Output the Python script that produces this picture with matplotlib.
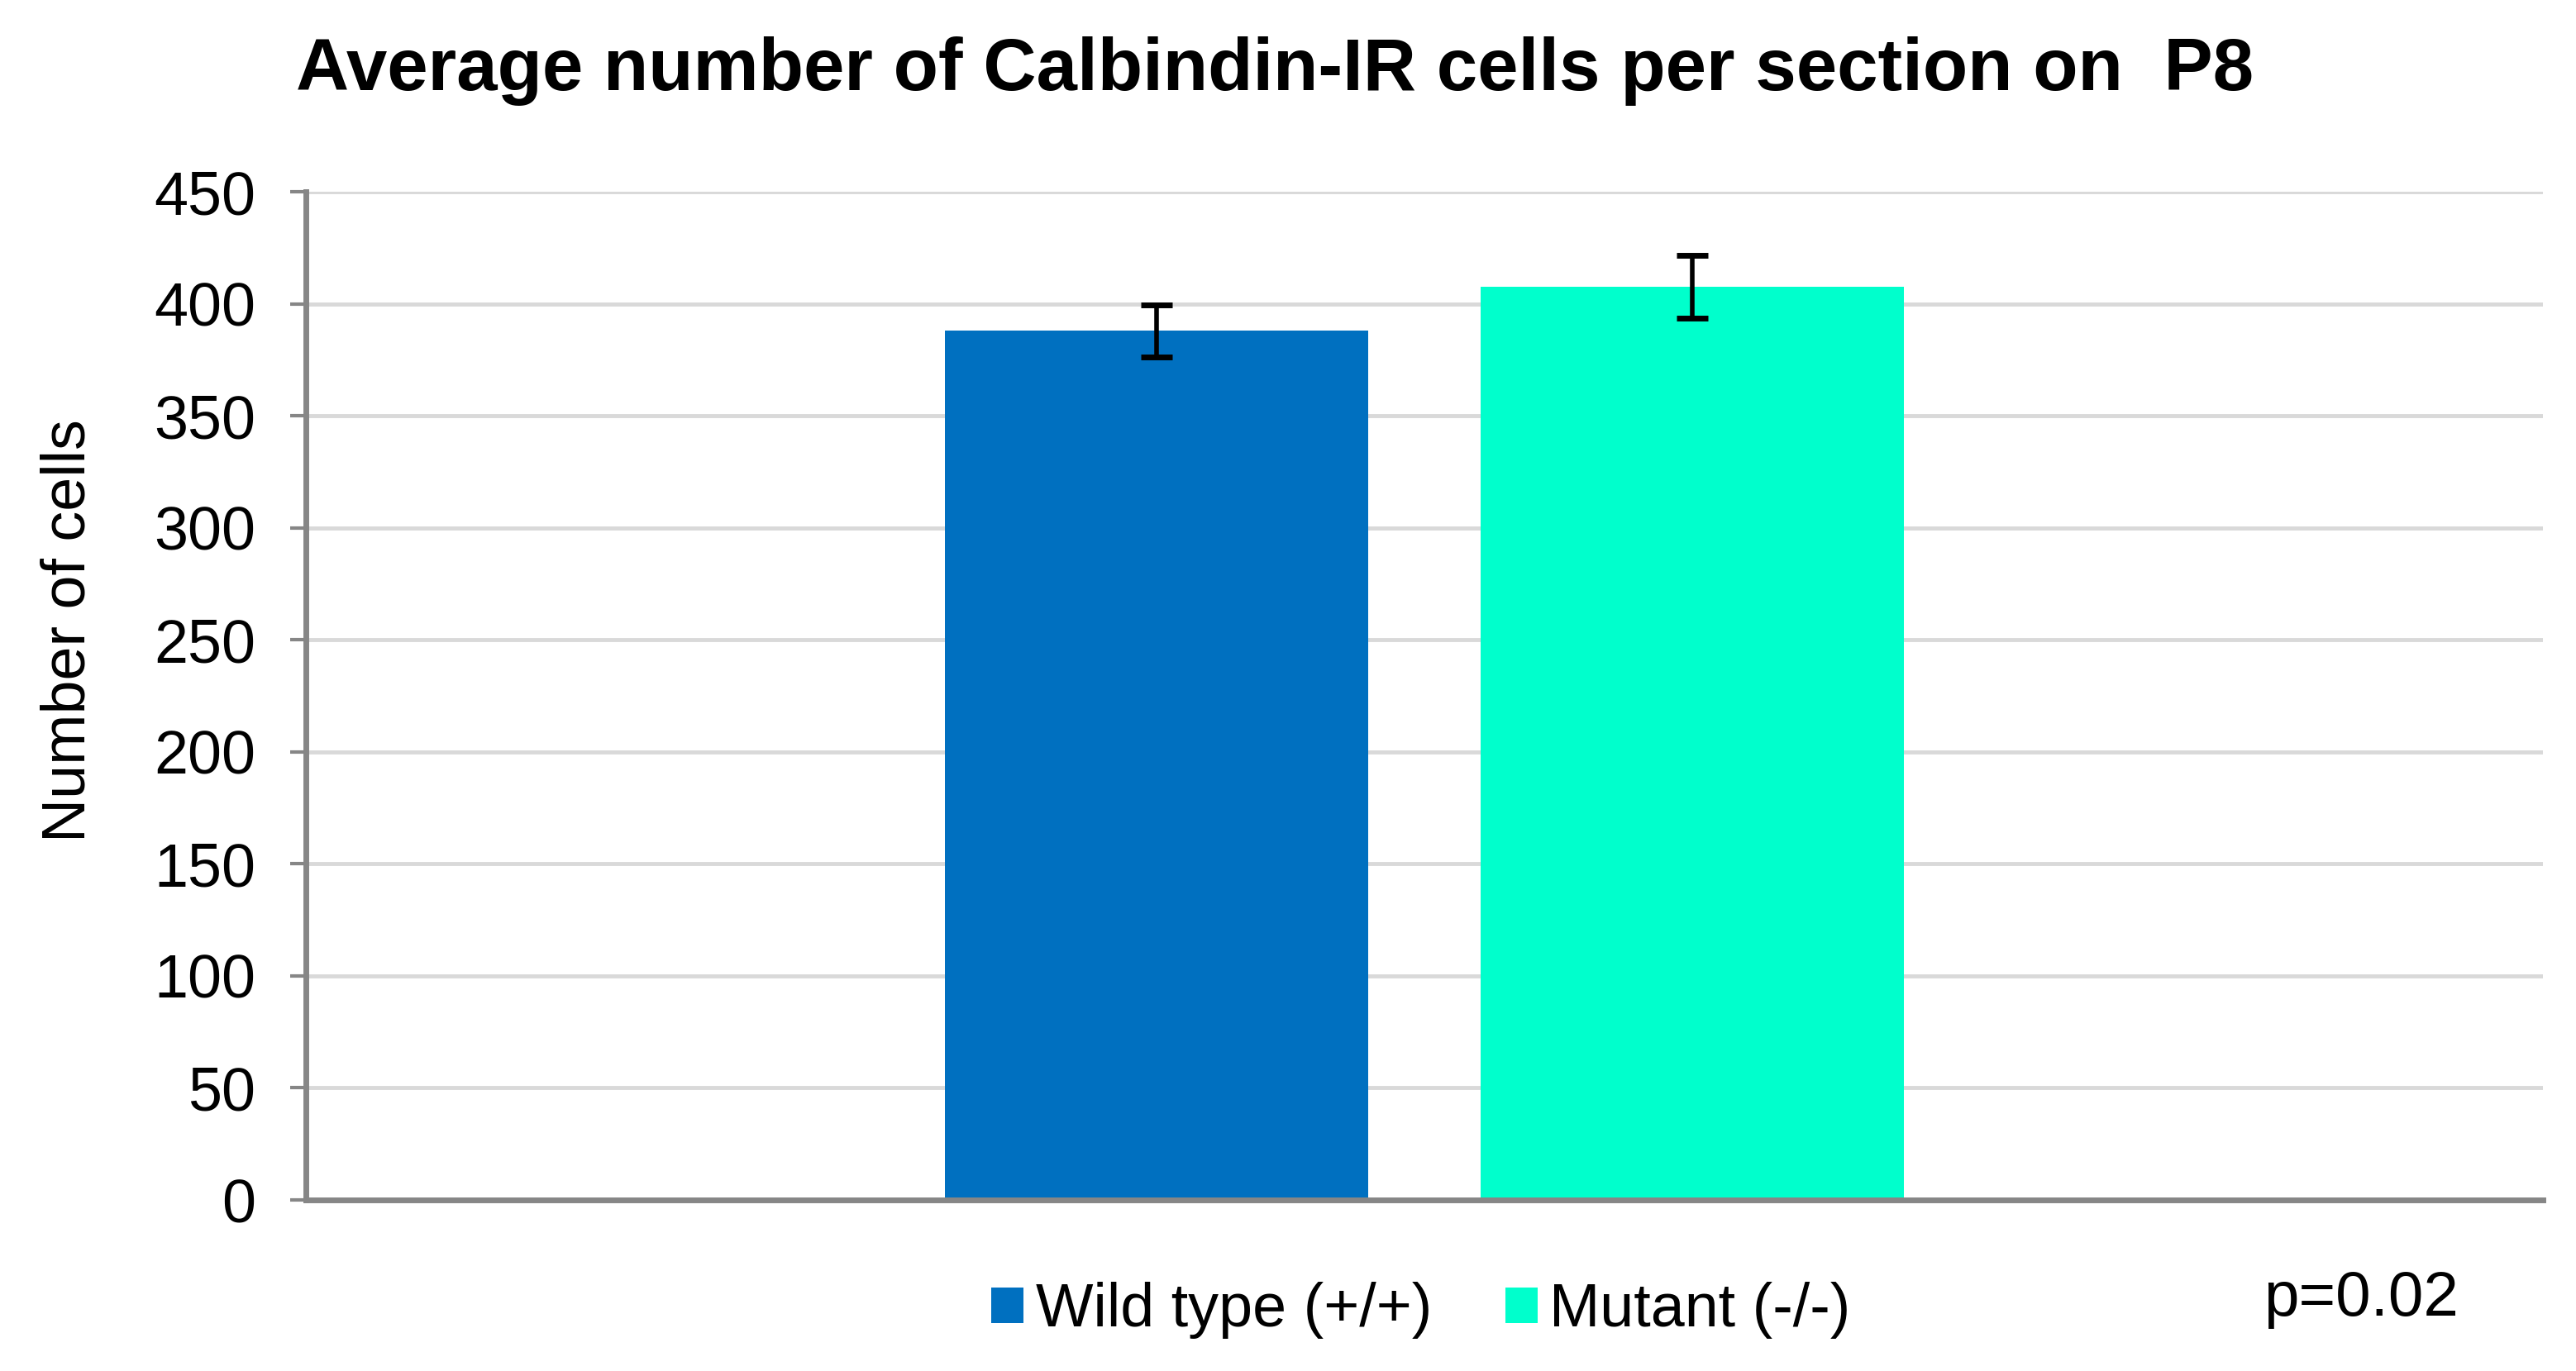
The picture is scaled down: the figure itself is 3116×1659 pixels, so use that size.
import matplotlib
matplotlib.use("Agg")
import matplotlib.pyplot as plt

# --------------------------------------------------------------------------- #
# Data
# --------------------------------------------------------------------------- #
groups = ["Wild type (+/+)", "Mutant (-/-)"]
means  = [388.0, 407.5]
errors = [11.6, 14.0]
colors = ["#0070C0", "#00FFCC"]
yticks = [0, 50, 100, 150, 200, 250, 300, 350, 400, 450]
title  = "Average number of Calbindin-IR cells per section on  P8"
pval   = "p=0.02"

W, H, DPI = 3116, 1659, 100
FS = 53

plt.rcParams["font.family"] = ["Liberation Sans", "DejaVu Sans"]

fig = plt.figure(figsize=(W / DPI, H / DPI), dpi=DPI)
ax = fig.add_axes([370 / W, 1 - 1452 / H, (3076 - 370) / W, (1452 - 232) / H])

# one category, two series side by side (Excel-style clustered bar)
bar_w, gap = 0.189, 0.0505
offsets = [-(bar_w + gap) / 2, (bar_w + gap) / 2]
for off, m, e, c, lab in zip(offsets, means, errors, colors, groups):
    ax.bar(off, m, width=bar_w, color=c, label=lab, zorder=2)
    ax.errorbar(off, m, yerr=e, fmt="none", ecolor="black", elinewidth=4,
                capsize=14, capthick=5, zorder=3)

ax.set_xlim(-0.5, 0.5)
ax.set_ylim(0, 450)
ax.set_yticks(yticks)
ax.set_xticks([])
ax.yaxis.grid(True, color="#D9D9D9", lw=3.5, zorder=0)
ax.set_axisbelow(True)

for s in ("top", "right"):
    ax.spines[s].set_visible(False)
for s in ("left", "bottom"):
    ax.spines[s].set_color("#868686")
    ax.spines[s].set_linewidth(5)
ax.tick_params(axis="y", length=14, width=3, color="#868686",
               labelsize=FS, pad=30)

ax.set_ylabel("Number of cells", fontsize=FS)
ax.yaxis.label.set_va("center")
ax.yaxis.set_label_coords(-0.106, 0.565)

fig.text(358 / W, 1 - 86 / H, title, fontsize=64, fontweight="bold",
         ha="left", va="center")
fig.text(2738 / W, 1 - 1572 / H, pval, fontsize=FS + 2, ha="left", va="center")

fig.legend(loc="center", bbox_to_anchor=(1719 / W, 1 - 1586 / H), ncol=2,
           frameon=False, fontsize=FS, handlelength=0.53, handleheight=0.53,
           handletextpad=0.2, columnspacing=1.2, borderaxespad=0)

fig.savefig("out.png", dpi=DPI)
